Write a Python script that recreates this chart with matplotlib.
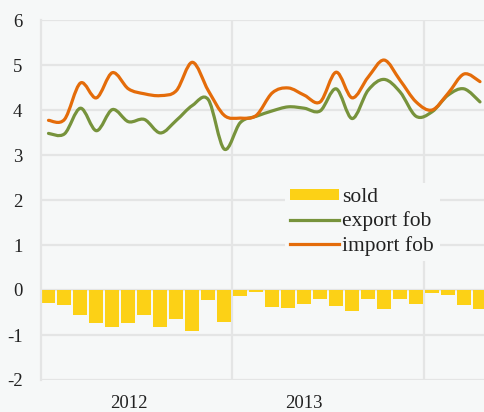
import numpy as np
import matplotlib
matplotlib.use("Agg")
import matplotlib.pyplot as plt
from matplotlib.path import Path
from matplotlib.patches import PathPatch, Patch
from matplotlib.lines import Line2D

# ---- data (monthly, Jan 2012 .. Apr 2014) ----
sold = [-0.29, -0.34, -0.55, -0.74, -0.82, -0.74, -0.56, -0.82, -0.64, -0.90, -0.23, -0.71,
        -0.13, -0.04, -0.38, -0.41, -0.30, -0.19, -0.36, -0.47, -0.21, -0.42, -0.19, -0.31,
        -0.07, -0.12, -0.33, -0.43]
export_fob = [3.48, 3.47, 4.04, 3.54, 4.01, 3.74, 3.79, 3.49, 3.77, 4.10, 4.23, 3.13,
              3.72, 3.86, 3.98, 4.07, 4.04, 3.98, 4.47, 3.81, 4.44, 4.68, 4.40, 3.86,
              3.96, 4.33, 4.47, 4.18]
import_fob = [3.77, 3.79, 4.60, 4.27, 4.83, 4.47, 4.36, 4.32, 4.43, 5.06, 4.43, 3.88,
              3.82, 3.88, 4.38, 4.49, 4.33, 4.18, 4.84, 4.27, 4.73, 5.11, 4.66, 4.18,
              4.00, 4.37, 4.80, 4.63]
year_labels = ["2012", "2013"]
year_label_pos = [5, 16]
year_bounds = [11.5, 23.5]
yticks = [-2, -1, 0, 1, 2, 3, 4, 5, 6]

BG = "#F6F8F8"
GRID = "#E4E5E5"
YELLOW = "#FCD116"
GREEN = "#77933C"
ORANGE = "#E46C0A"

plt.rcParams['font.family'] = ['Liberation Serif', 'DejaVu Serif']

fig = plt.figure(figsize=(4.84, 4.12), dpi=100, facecolor=BG)
ax = fig.add_axes([40.5 / 484, 32 / 412, (484 - 40.5) / 484, 360 / 412], facecolor=BG)

x = np.arange(len(sold))
ax.bar(x, sold, width=0.875, color=YELLOW, zorder=2)


def smooth_path(xs, ys):
    pts = np.column_stack([xs, ys]).astype(float)
    n = len(pts)
    verts = [pts[0]]
    codes = [Path.MOVETO]
    for i in range(n - 1):
        p0 = pts[i - 1] if i > 0 else pts[i]
        p1 = pts[i]
        p2 = pts[i + 1]
        p3 = pts[i + 2] if i + 2 < n else pts[i + 1]
        c1 = p1 + (p2 - p0) / 6.0
        c2 = p2 - (p3 - p1) / 6.0
        verts += [c1, c2, p2]
        codes += [Path.CURVE4] * 3
    return Path(verts, codes)


for ys, col in [(export_fob, GREEN), (import_fob, ORANGE)]:
    ax.add_patch(PathPatch(smooth_path(x, ys), facecolor='none', edgecolor=col,
                           lw=2.3, capstyle='round', joinstyle='round', zorder=3))

ax.set_xlim(-0.5, 27.25)
ax.set_ylim(-2, 6)
ax.set_yticks(yticks)
ax.set_yticklabels([str(v) for v in yticks])
ax.set_xticks(year_label_pos)
ax.set_xticklabels(year_labels)
ax.set_xticks(year_bounds, minor=True)
ax.tick_params(axis='both', which='both', length=0, labelsize=13.5, colors='#222222')
ax.tick_params(axis='y', pad=13)
ax.tick_params(axis='x', pad=11)
ax.grid(False)
for v in yticks:
    ax.axhline(v, color=GRID, lw=1.6, zorder=1)
for v in year_bounds:
    ax.axvline(v, color=GRID, lw=1.6, zorder=1)
for s in ['top', 'right', 'bottom']:
    ax.spines[s].set_visible(False)
ax.spines['left'].set_color(GRID)
ax.spines['left'].set_linewidth(1.6)

handles = [Patch(facecolor=YELLOW, edgecolor='none'),
           Line2D([], [], color=GREEN, lw=2.3),
           Line2D([], [], color=ORANGE, lw=2.3)]
leg = ax.legend(handles, ['sold', 'export fob', 'import fob'],
                loc='upper left', bbox_to_anchor=(274 / 484, 1 - 172 / 412),
                bbox_transform=fig.transFigure, frameon=True, fancybox=False,
                facecolor=BG, edgecolor='none', framealpha=1,
                fontsize=15.5, handlelength=2.25, handleheight=0.45,
                handletextpad=0.18, labelspacing=0.2, borderpad=0.25,
                labelcolor='#222222')
leg.set_zorder(5)

fig.savefig("out.png", dpi=100, facecolor=BG)
